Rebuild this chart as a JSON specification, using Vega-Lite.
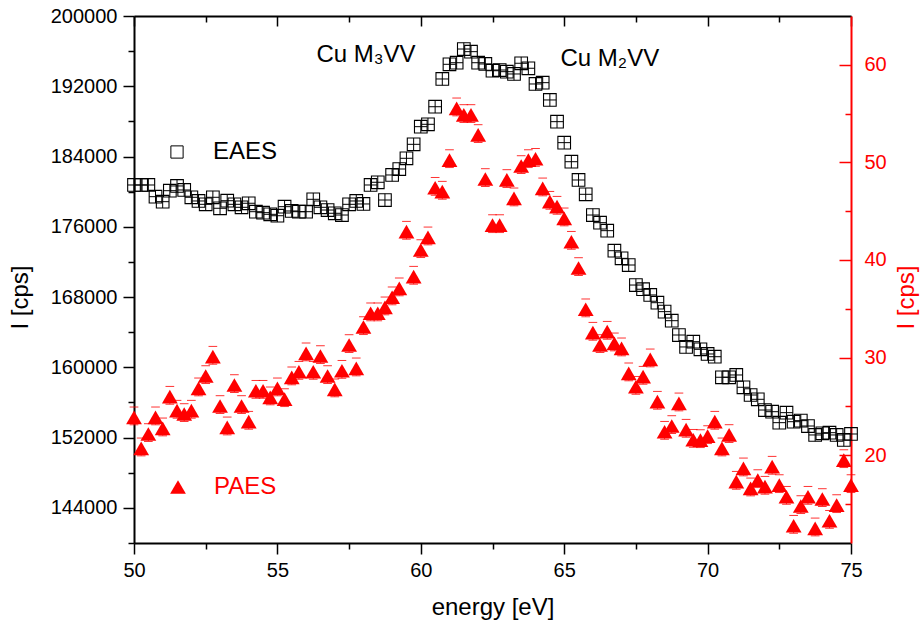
{
  "$schema": "https://vega.github.io/schema/vega-lite/v6.json",
  "width": 717,
  "height": 527,
  "autosize": {"type": "none"},
  "padding": {"left": 134, "top": 16, "right": 73, "bottom": 83},
  "background": "white",
  "config": {
    "view": {"stroke": null},
    "font": "Liberation Sans",
    "axis": {
      "grid": false,
      "labelFont": "Liberation Sans",
      "titleFont": "Liberation Sans",
      "labelFontSize": 20,
      "titleFontSize": 24,
      "titleFontWeight": "normal",
      "domainColor": "black",
      "tickColor": "black",
      "labelColor": "black",
      "titleColor": "black",
      "domainWidth": 2,
      "tickWidth": 1.5,
      "labelFlush": false,
      "labelOverlap": false
    },
    "legend": {"labelFont": "Liberation Sans"}
  },
  "datasets": {
    "eaes": [
      {"E": 50.0, "I": 180760}, {"E": 50.25, "I": 180760}, {"E": 50.5, "I": 180760}, {"E": 50.75, "I": 179430},
      {"E": 51.0, "I": 178860}, {"E": 51.25, "I": 180110}, {"E": 51.5, "I": 180650}, {"E": 51.75, "I": 180190},
      {"E": 52.0, "I": 179360}, {"E": 52.25, "I": 178940}, {"E": 52.5, "I": 178560}, {"E": 52.75, "I": 179360},
      {"E": 53.0, "I": 178110}, {"E": 53.25, "I": 178970}, {"E": 53.5, "I": 178560}, {"E": 53.75, "I": 178220},
      {"E": 54.0, "I": 178680}, {"E": 54.25, "I": 177720}, {"E": 54.5, "I": 177610}, {"E": 54.75, "I": 177420},
      {"E": 55.0, "I": 177260}, {"E": 55.25, "I": 178290}, {"E": 55.5, "I": 177800}, {"E": 55.75, "I": 177720},
      {"E": 56.0, "I": 177720}, {"E": 56.25, "I": 179130}, {"E": 56.5, "I": 178220}, {"E": 56.75, "I": 177910},
      {"E": 57.0, "I": 177540}, {"E": 57.25, "I": 177340}, {"E": 57.5, "I": 178560}, {"E": 57.75, "I": 178940},
      {"E": 58.0, "I": 178600}, {"E": 58.25, "I": 180760}, {"E": 58.5, "I": 181070}, {"E": 58.75, "I": 179050},
      {"E": 59.0, "I": 181900}, {"E": 59.25, "I": 182580}, {"E": 59.5, "I": 183800}, {"E": 59.75, "I": 185390},
      {"E": 60.0, "I": 187400}, {"E": 60.25, "I": 187670}, {"E": 60.5, "I": 189670}, {"E": 60.75, "I": 192830},
      {"E": 61.0, "I": 194500}, {"E": 61.25, "I": 194680}, {"E": 61.5, "I": 196240}, {"E": 61.75, "I": 195940},
      {"E": 62.0, "I": 194680}, {"E": 62.25, "I": 194540}, {"E": 62.5, "I": 193770}, {"E": 62.75, "I": 193850},
      {"E": 63.0, "I": 193660}, {"E": 63.25, "I": 193400}, {"E": 63.5, "I": 194620}, {"E": 63.75, "I": 194050},
      {"E": 64.0, "I": 192260}, {"E": 64.25, "I": 192410}, {"E": 64.5, "I": 190440}, {"E": 64.75, "I": 187970},
      {"E": 65.0, "I": 185580}, {"E": 65.25, "I": 183410}, {"E": 65.5, "I": 181330}, {"E": 65.75, "I": 179700},
      {"E": 66.0, "I": 177340}, {"E": 66.25, "I": 176470}, {"E": 66.5, "I": 175560}, {"E": 66.75, "I": 173280},
      {"E": 67.0, "I": 172410}, {"E": 67.25, "I": 171650}, {"E": 67.5, "I": 169370}, {"E": 67.75, "I": 168890},
      {"E": 68.0, "I": 168240}, {"E": 68.25, "I": 167360}, {"E": 68.5, "I": 166340}, {"E": 68.75, "I": 165310},
      {"E": 69.0, "I": 163680}, {"E": 69.25, "I": 162320}, {"E": 69.5, "I": 162920}, {"E": 69.75, "I": 162050},
      {"E": 70.0, "I": 161520}, {"E": 70.25, "I": 161210}, {"E": 70.5, "I": 158870}, {"E": 70.75, "I": 158870},
      {"E": 71.0, "I": 159130}, {"E": 71.25, "I": 157730}, {"E": 71.5, "I": 156850}, {"E": 71.75, "I": 156360},
      {"E": 72.0, "I": 155140}, {"E": 72.25, "I": 154950}, {"E": 72.5, "I": 153700}, {"E": 72.75, "I": 154840},
      {"E": 73.0, "I": 153810}, {"E": 73.25, "I": 153930}, {"E": 73.5, "I": 153320}, {"E": 73.75, "I": 152300},
      {"E": 74.0, "I": 152490}, {"E": 74.25, "I": 152560}, {"E": 74.5, "I": 152300}, {"E": 74.75, "I": 151730},
      {"E": 75.0, "I": 152410}
    ],
    "paes": [
      {"E": 50.0, "R": 23.88}, {"E": 50.25, "R": 20.70}, {"E": 50.5, "R": 22.17}, {"E": 50.75, "R": 23.88},
      {"E": 51.0, "R": 22.75}, {"E": 51.25, "R": 25.99}, {"E": 51.5, "R": 24.56}, {"E": 51.75, "R": 24.22},
      {"E": 52.0, "R": 24.56}, {"E": 52.25, "R": 26.85}, {"E": 52.5, "R": 28.11}, {"E": 52.75, "R": 30.09},
      {"E": 53.0, "R": 25.04}, {"E": 53.25, "R": 22.85}, {"E": 53.5, "R": 27.19}, {"E": 53.75, "R": 25.04},
      {"E": 54.0, "R": 23.43}, {"E": 54.25, "R": 26.60}, {"E": 54.5, "R": 26.60}, {"E": 54.75, "R": 25.93},
      {"E": 55.0, "R": 26.85}, {"E": 55.25, "R": 25.75}, {"E": 55.5, "R": 27.98}, {"E": 55.75, "R": 28.55},
      {"E": 56.0, "R": 30.44}, {"E": 56.25, "R": 28.55}, {"E": 56.5, "R": 30.16}, {"E": 56.75, "R": 28.11},
      {"E": 57.0, "R": 26.75}, {"E": 57.25, "R": 28.65}, {"E": 57.5, "R": 31.29}, {"E": 57.75, "R": 28.90},
      {"E": 58.0, "R": 33.13}, {"E": 58.25, "R": 34.54}, {"E": 58.5, "R": 34.54}, {"E": 58.75, "R": 35.15},
      {"E": 59.0, "R": 36.18}, {"E": 59.25, "R": 37.10}, {"E": 59.5, "R": 42.90}, {"E": 59.75, "R": 38.29},
      {"E": 60.0, "R": 41.02}, {"E": 60.25, "R": 42.32}, {"E": 60.5, "R": 47.40}, {"E": 60.75, "R": 47.00},
      {"E": 61.0, "R": 50.24}, {"E": 61.25, "R": 55.54}, {"E": 61.5, "R": 54.86}, {"E": 61.75, "R": 54.86},
      {"E": 62.0, "R": 52.81}, {"E": 62.25, "R": 48.30}, {"E": 62.5, "R": 43.58}, {"E": 62.75, "R": 43.58},
      {"E": 63.0, "R": 48.20}, {"E": 63.25, "R": 46.32}, {"E": 63.5, "R": 49.63}, {"E": 63.75, "R": 50.24},
      {"E": 64.0, "R": 50.37}, {"E": 64.25, "R": 47.34}, {"E": 64.5, "R": 45.97}, {"E": 64.75, "R": 45.46},
      {"E": 65.0, "R": 44.27}, {"E": 65.25, "R": 41.87}, {"E": 65.5, "R": 39.18}, {"E": 65.75, "R": 34.95},
      {"E": 66.0, "R": 32.55}, {"E": 66.25, "R": 31.29}, {"E": 66.5, "R": 32.65}, {"E": 66.75, "R": 31.46},
      {"E": 67.0, "R": 30.95}, {"E": 67.25, "R": 28.39}, {"E": 67.5, "R": 27.01}, {"E": 67.75, "R": 28.04},
      {"E": 68.0, "R": 29.82}, {"E": 68.25, "R": 25.48}, {"E": 68.5, "R": 22.40}, {"E": 68.75, "R": 22.99},
      {"E": 69.0, "R": 25.31}, {"E": 69.25, "R": 22.61}, {"E": 69.5, "R": 21.58}, {"E": 69.75, "R": 21.55},
      {"E": 70.0, "R": 21.96}, {"E": 70.25, "R": 23.43}, {"E": 70.5, "R": 20.70}, {"E": 70.75, "R": 22.07},
      {"E": 71.0, "R": 17.28}, {"E": 71.25, "R": 18.65}, {"E": 71.5, "R": 16.60}, {"E": 71.75, "R": 17.45},
      {"E": 72.0, "R": 16.77}, {"E": 72.25, "R": 18.82}, {"E": 72.5, "R": 16.94}, {"E": 72.75, "R": 15.74},
      {"E": 73.0, "R": 12.77}, {"E": 73.25, "R": 14.79}, {"E": 73.5, "R": 15.74}, {"E": 73.75, "R": 12.50},
      {"E": 74.0, "R": 15.51}, {"E": 74.25, "R": 13.28}, {"E": 74.5, "R": 14.89}, {"E": 74.75, "R": 19.50},
      {"E": 75.0, "R": 16.94}
    ],
    "labels": [
      {"E": 56.36, "I": 194760, "label": "Cu M₃VV"},
      {"E": 64.87, "I": 194310, "label": "Cu M₂VV"}
    ]
  },
  "layer": [
    {
      "data": {"name": "eaes"},
      "encoding": {
        "x": {"field": "E", "type": "quantitative", "scale": {"domain": [50, 75], "nice": false, "zero": false},
          "axis": {"orient": "bottom", "values": [50, 55, 60, 65, 70, 75], "format": "d", "tickSize": 11, "labelPadding": 6,
            "title": "energy [eV]", "titleY": 64, "titleBaseline": "middle"}},
        "y": {"field": "I", "type": "quantitative", "scale": {"domain": [140000, 200000], "nice": false, "zero": false},
          "axis": {"orient": "left", "values": [144000, 152000, 160000, 168000, 176000, 184000, 192000, 200000], "format": "d",
            "tickSize": 11, "labelPadding": 6, "title": "I [cps]", "titleAngle": -90, "titleX": -114, "titleY": 281, "titleBaseline": "middle", "titleAlign": "center"}}
      },
      "layer": [
        {
          "mark": {"type": "point", "shape": "square", "filled": false, "color": "black", "strokeWidth": 1.1, "size": 160, "opacity": 1},
          "encoding": {
            "shape": {"datum": "EAES", "scale": {"range": ["square"]},
              "legend": {"orient": "none", "legendX": 31, "legendY": 124, "title": null, "padding": 0, "labelFontSize": 24, "labelColor": "black",
                "symbolSize": 150, "symbolStrokeColor": "black", "symbolStrokeWidth": 1, "symbolFillColor": "transparent", "labelOffset": 24}}
          }
        },
        {
          "mark": {"type": "point", "shape": "M-1,0H1M0,-1V1", "filled": false, "color": "black", "strokeWidth": 1, "size": 160, "opacity": 1}
        }
      ]
    },
    {
      "data": {"name": "paes"},
      "encoding": {
        "x": {"field": "E", "type": "quantitative", "scale": {"domain": [50, 75], "nice": false, "zero": false},
          "axis": {"orient": "top", "values": [50, 55, 60, 65, 70, 75], "tickSize": -10, "labels": false, "title": null}},
        "y": {"field": "R", "type": "quantitative", "scale": {"domain": [11, 65], "nice": false, "zero": false},
          "axis": {"orient": "right", "values": [20, 30, 40, 50, 60], "format": "d", "tickSize": -12, "labelPadding": 25,
            "domainColor": "red", "tickColor": "red", "labelColor": "red", "titleColor": "red",
            "title": "I [cps]", "titleAngle": -90, "titleX": 55, "titleY": 281, "titleBaseline": "middle", "titleAlign": "center"}}
      },
      "layer": [
        {
          "mark": {"type": "point", "shape": "triangle-up", "filled": true, "color": "red", "size": 250, "opacity": 1},
          "encoding": {
            "shape": {"datum": "PAES", "scale": {"range": ["triangle-up"]},
              "legend": {"orient": "none", "legendX": 32, "legendY": 459, "title": null, "padding": 0, "labelFontSize": 24, "labelColor": "red",
                "symbolSize": 250, "symbolFillColor": "red", "symbolStrokeColor": "red", "labelOffset": 24}}
          }
        },
        {
          "mark": {"type": "point", "shape": "M-0.55,-1.3H0.55M0,0.58V0.95M-0.55,0.95H0.55", "filled": false, "color": "red", "strokeWidth": 1, "size": 250, "opacity": 0.8}
        }
      ]
    },
    {
      "data": {"name": "eaes"},
      "mark": {"type": "point", "opacity": 0},
      "encoding": {
        "x": {"field": "E", "type": "quantitative", "scale": {"domain": [50, 75], "nice": false, "zero": false},
          "axis": {"orient": "bottom", "values": [52.5, 57.5, 62.5, 67.5, 72.5], "tickSize": 6, "labels": false, "domain": false, "title": null}},
        "y": {"field": "I", "type": "quantitative", "scale": {"domain": [140000, 200000], "nice": false, "zero": false},
          "axis": {"orient": "left", "values": [140000, 148000, 156000, 164000, 172000, 180000, 188000, 196000], "tickSize": 6, "labels": false, "domain": false, "title": null}}
      }
    },
    {
      "data": {"name": "paes"},
      "mark": {"type": "point", "opacity": 0},
      "encoding": {
        "x": {"field": "E", "type": "quantitative", "scale": {"domain": [50, 75], "nice": false, "zero": false},
          "axis": {"orient": "top", "values": [52.5, 57.5, 62.5, 67.5, 72.5], "tickSize": -6, "labels": false, "domain": false, "title": null}},
        "y": {"field": "R", "type": "quantitative", "scale": {"domain": [11, 65], "nice": false, "zero": false},
          "axis": {"orient": "right", "values": [15, 25, 35, 45, 55], "tickSize": -6, "tickColor": "red", "labels": false, "domain": false, "title": null}}
      }
    },
    {
      "data": {"name": "labels"},
      "mark": {"type": "text", "align": "left", "baseline": "alphabetic", "fontSize": 24, "font": "Liberation Sans", "color": "black"},
      "encoding": {
        "x": {"field": "E", "type": "quantitative", "scale": {"domain": [50, 75], "nice": false, "zero": false}, "axis": null},
        "y": {"field": "I", "type": "quantitative", "scale": {"domain": [140000, 200000], "nice": false, "zero": false}, "axis": null},
        "text": {"field": "label"}
      }
    }
  ],
  "resolve": {
    "scale": {"x": "independent", "y": "independent", "shape": "independent"},
    "axis": {"x": "independent", "y": "independent"},
    "legend": {"shape": "independent"}
  }
}
